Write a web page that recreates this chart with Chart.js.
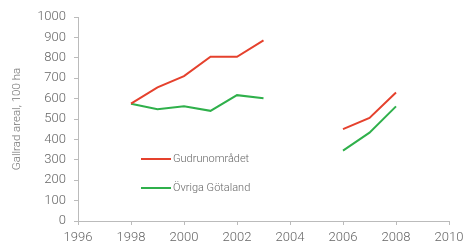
<!doctype html>
<html>
<head>
<meta charset="utf-8" />
<title>Gallrad areal</title>
<style>
  html, body { margin:0; padding:0; background:#fff; }
  .wrap { position:relative; width:470px; height:245px; }
  canvas { display:block; }
  .legend { position:absolute; left:141px; top:144px; font-family:Roboto, sans-serif; font-weight:300; font-size:11px; color:#666; }
  .legend div { display:flex; align-items:center; height:29px; }
  .legend span.sw { display:inline-block; width:30px; height:2px; margin-right:2px; }
</style>
</head>
<body>
<div class="wrap">
  <canvas id="chart" width="470" height="245"></canvas>
  <div class="legend">
    <div><span class="sw" style="background:#e5412d"></span>Gudrunområdet</div>
    <div><span class="sw" style="background:#2fb04b"></span>Övriga Götaland</div>
  </div>
</div>
<script src="https://cdn.jsdelivr.net/npm/chart.js@4.4.1/dist/chart.umd.min.js"></script>
<script>
const years = [1998, 1999, 2000, 2001, 2002, 2003, 2004, 2005, 2006, 2007, 2008];
const gudrun = [575, 655, 710, 805, 805, 885, null, null, 450, 505, 630];
const ovriga = [575, 548, 562, 540, 617, 602, null, null, 345, 433, 562];
const xTicks = [1996, 1998, 2000, 2002, 2004, 2006, 2008, 2010];

const toPts = vals => years.map((y, i) => ({ x: y, y: vals[i] }));
const font = { family: 'Roboto, sans-serif', size: 13, weight: 300 };

new Chart(document.getElementById('chart'), {
  type: 'line',
  data: {
    datasets: [
      { label: 'Gudrunområdet', data: toPts(gudrun), borderColor: '#e5412d', borderWidth: 2, pointRadius: 0, spanGaps: false, tension: 0 },
      { label: 'Övriga Götaland', data: toPts(ovriga), borderColor: '#2fb04b', borderWidth: 2, pointRadius: 0, spanGaps: false, tension: 0 }
    ]
  },
  options: {
    responsive: false,
    animation: false,
    layout: { padding: { top: 17, right: 21, left: 8 } },
    plugins: { legend: { display: false }, tooltip: { enabled: false } },
    scales: {
      x: {
        type: 'linear', min: 1996, max: 2010,
        afterBuildTicks: s => { s.ticks = xTicks.map(v => ({ value: v })); },
        grid: { drawOnChartArea: false, tickLength: 4, color: '#bbb' },
        border: { color: '#bbb' },
        ticks: { font, color: '#666', padding: 5, maxRotation: 0, callback: v => String(v) },
        afterFit: s => { s.height = 24; }
      },
      y: {
        min: 0, max: 1000,
        ticks: { stepSize: 100, font, color: '#666', padding: 8, callback: v => String(v) },
        grid: { drawOnChartArea: false, tickLength: 4, color: '#bbb' },
        border: { color: '#bbb' },
        title: { display: true, text: 'Gallrad areal, 100 ha', font: { family: 'Roboto, sans-serif', size: 11.5, weight: 300 }, color: '#777', padding: 2 },
        afterFit: s => { s.width = 70; }
      }
    }
  }
});
</script>
</body>
</html>
